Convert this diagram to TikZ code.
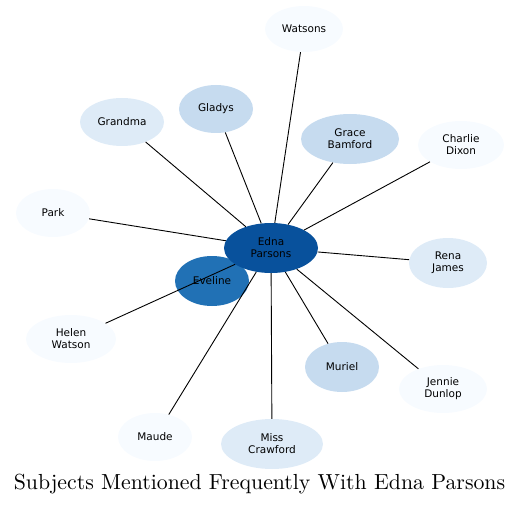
\documentclass[tikz,border=0pt]{standalone}
\usepackage{fontspec}
\newfontfamily\nodefont{DejaVu Sans}
\usetikzlibrary{shapes.geometric}
\definecolor{bA}{HTML}{F7FBFF}
\definecolor{bB}{HTML}{DEEBF7}
\definecolor{bC}{HTML}{C6DBEF}
\definecolor{bE}{HTML}{2171B5}
\definecolor{bF}{HTML}{08519C}
\tikzset{
  subj/.style={ellipse, inner sep=0pt, align=center, font=\nodefont\fontsize{10.5}{12}\selectfont, text=black},
  edge/.style={draw=black, line width=0.9pt}
}
\newcommand{\sbj}[6]{\node[subj, fill=#4, minimum width=#5*2pt, minimum height=#6*2pt] (#1) at #2 {#3};}
\begin{document}
\begin{tikzpicture}[x=1pt,y=-1pt]
\useasboundingbox (0,0) rectangle (521,505);
\sbj{wat}{(304,29)}{Watsons}{bA}{39}{23}
\sbj{gla}{(216,109)}{Gladys}{bC}{37}{24}
\sbj{gra}{(122,122)}{Grandma}{bB}{42}{24}
\sbj{gb}{(350,139)}{Grace\\Bamford}{bC}{49}{25}
\sbj{cd}{(461,145)}{Charlie\\Dixon}{bA}{43}{24}
\sbj{par}{(53,213)}{Park}{bA}{37}{24}
\sbj{eve}{(212,281)}{Eveline}{bE}{37}{25}
\sbj{edna}{(271,248)}{Edna\\Parsons}{bF}{47}{25}
\sbj{rj}{(448,263)}{Rena\\James}{bB}{39}{25}
\sbj{hw}{(71,339)}{Helen\\Watson}{bA}{45}{24}
\sbj{mur}{(342,367)}{Muriel}{bC}{37}{25}
\sbj{jd}{(443,389)}{Jennie\\Dunlop}{bA}{44}{24}
\sbj{mau}{(155,437)}{Maude}{bA}{37}{24}
\sbj{mc}{(272,444)}{Miss\\Crawford}{bB}{51}{25}
\foreach \t in {wat,gla,gra,gb,cd,par,rj,hw,mur,jd,mau,mc}
  \draw[edge] (edna) -- (\t);
\node[font=\fontsize{10}{12}\selectfont, scale=2.18, inner sep=0pt] (title) at (259.5,484) {Subjects Mentioned Frequently With Edna Parsons};
\end{tikzpicture}
\end{document}
